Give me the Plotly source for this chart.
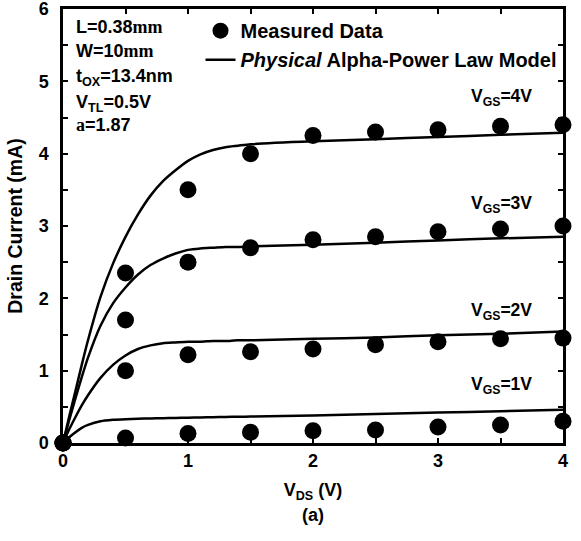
import plotly.graph_objects as go

# ---------------- data ----------------
vds_meas = [0, 0.5, 1.0, 1.5, 2.0, 2.5, 3.0, 3.5, 4.0]
id_meas_4 = [0, 2.35, 3.50, 4.00, 4.25, 4.30, 4.33, 4.38, 4.40]
id_meas_3 = [0, 1.70, 2.50, 2.70, 2.81, 2.85, 2.92, 2.96, 3.00]
id_meas_2 = [0, 1.00, 1.22, 1.26, 1.30, 1.36, 1.40, 1.44, 1.45]
id_meas_1 = [0, 0.07, 0.13, 0.15, 0.17, 0.18, 0.22, 0.25, 0.30]

vds_model = [0, 0.05, 0.1, 0.15, 0.2, 0.3, 0.4, 0.5, 0.6, 0.7, 0.8, 0.9,
             1.0, 1.1, 1.2, 1.3, 1.4, 1.5, 2.0, 2.5, 3.0, 3.5, 4.0]
id_model_4 = [0, 0.37, 0.72, 1.08, 1.42, 2.02, 2.48, 2.85, 3.16, 3.42, 3.62, 3.77,
              3.90, 3.99, 4.05, 4.09, 4.11, 4.13, 4.17, 4.20, 4.23, 4.26, 4.29]
id_model_3 = [0, 0.32, 0.62, 0.91, 1.18, 1.62, 1.93, 2.15, 2.33, 2.46, 2.55, 2.62,
              2.67, 2.69, 2.70, 2.71, 2.71, 2.72, 2.74, 2.77, 2.80, 2.83, 2.85]
id_model_2 = [0, 0.19, 0.36, 0.52, 0.66, 0.90, 1.08, 1.21, 1.30, 1.35, 1.38, 1.39,
              1.40, 1.40, 1.41, 1.41, 1.42, 1.42, 1.44, 1.46, 1.49, 1.51, 1.54]
id_model_1 = [0, 0.08, 0.15, 0.21, 0.25, 0.30, 0.32, 0.33, 0.335, 0.34, 0.343, 0.346,
              0.35, 0.353, 0.356, 0.36, 0.363, 0.366, 0.38, 0.40, 0.42, 0.44, 0.46]

curve_labels = ["V<sub>GS</sub>=4V", "V<sub>GS</sub>=3V", "V<sub>GS</sub>=2V", "V<sub>GS</sub>=1V"]
label_x = [3.51, 3.51, 3.51, 3.51]
label_y = [4.77, 3.30, 1.82, 0.80]

x_ticks = [0, 1, 2, 3, 4]
y_ticks = [0, 1, 2, 3, 4, 5, 6]

FONT = "Liberation Sans, Arial, sans-serif"
SERIF = "Liberation Serif"

fig = go.Figure()

model_sets = [id_model_4, id_model_3, id_model_2, id_model_1]
meas_sets = [id_meas_4, id_meas_3, id_meas_2, id_meas_1]

for i, ym in enumerate(model_sets):
    fig.add_trace(go.Scatter(
        x=vds_model, y=ym, mode="lines",
        line=dict(color="black", width=2.5, shape="spline", smoothing=0.6),
        name="<i>Physical</i> Alpha-Power Law Model",
        showlegend=(i == 0), legendrank=2, cliponaxis=False))

for i, ys in enumerate(meas_sets):
    fig.add_trace(go.Scatter(
        x=vds_meas, y=ys, mode="markers",
        marker=dict(color="black", size=17, symbol="circle"),
        name="Measured Data",
        showlegend=(i == 0), legendrank=1, cliponaxis=False))

for t, x, y in zip(curve_labels, label_x, label_y):
    fig.add_annotation(x=x, y=y, text=t, showarrow=False,
                       font=dict(family=FONT, size=17.5, color="black", weight="bold"))

params = [
    ("L=0.38<span style='font-family:%s'>mm</span>" % SERIF, 5.75),
    ("W=10<span style='font-family:%s'>mm</span>" % SERIF, 5.42),
    ("t<sub>OX</sub>=13.4nm", 5.05),
    ("V<sub>TL</sub>=0.5V", 4.70),
    ("<span style='font-family:%s'>a</span>=1.87" % SERIF, 4.40),
]
for t, y in params:
    fig.add_annotation(x=0.086, y=y, text=t, showarrow=False, xanchor="left",
                       font=dict(family=FONT, size=18, color="black", weight="bold"))

fig.add_annotation(xref="paper", yref="paper", x=0.5, y=-0.166, text="(a)",
                   showarrow=False, yanchor="middle",
                   font=dict(family=FONT, size=18, color="black", weight="bold"))
fig.add_annotation(xref="paper", yref="paper", x=-0.035, y=-0.217, text="10",
                   showarrow=False, yanchor="top", xanchor="right",
                   font=dict(family=FONT, size=18, color="black", weight="bold"))

axis_common = dict(
    showline=True, linecolor="black", linewidth=2.5, mirror="allticks",
    ticks="inside", ticklen=5, tickwidth=1.5, tickcolor="black",
    showgrid=False, zeroline=False, automargin=False, ticklabeloverflow="allow",
    tickfont=dict(family=FONT, size=18, color="black", weight="bold"),
    minor=dict(ticks="inside", ticklen=5, tickwidth=1.5, tickcolor="black", dtick=0.5),
)

fig.update_xaxes(range=[0, 4], tickvals=x_ticks, ticktext=[str(v) for v in x_ticks],
                 title=dict(text="V<sub>DS</sub> (V)", standoff=14,
                            font=dict(family=FONT, size=18, color="black", weight="bold")),
                 **axis_common)
fig.update_yaxes(range=[0, 6], tickvals=y_ticks, ticktext=[str(v) for v in y_ticks],
                 ticklabelstandoff=8,
                 title=dict(text="Drain Current (mA)", standoff=11,
                            font=dict(family=FONT, size=19.5, color="black", weight="bold")),
                 **axis_common)

fig.update_layout(
    width=581, height=541,
    margin=dict(l=63, r=18, t=9, b=98, autoexpand=False),
    paper_bgcolor="white", plot_bgcolor="white",
    font=dict(family=FONT, color="black"),
    legend=dict(x=0.275, y=0.995, xanchor="left", yanchor="top",
                bgcolor="rgba(0,0,0,0)", borderwidth=0,
                font=dict(family=FONT, size=20, color="black", weight="bold"),
                itemsizing="trace", tracegroupgap=0),
)

fig.write_html("out.html", config={"displayModeBar": False},
               post_script="document.body.style.margin='0';document.body.style.padding='0';")
